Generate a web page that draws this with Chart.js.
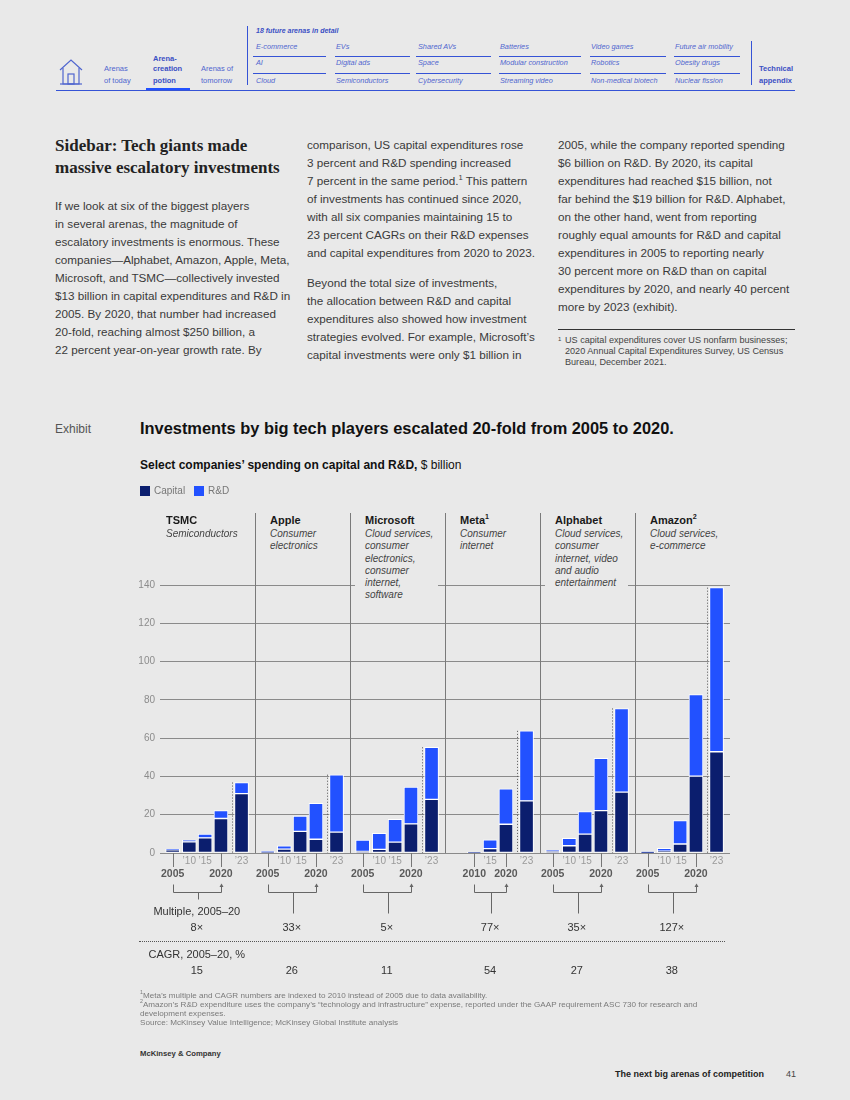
<!DOCTYPE html>
<html><head><meta charset="utf-8">
<script src="https://cdn.jsdelivr.net/npm/chart.js@4.4.1/dist/chart.umd.min.js"></script>
<style>
html,body{margin:0;padding:0;}
body{width:850px;height:1100px;background:#e9e9e9;position:relative;overflow:hidden;font-family:"Liberation Sans",Arial,sans-serif;}
.t{position:absolute;white-space:nowrap;}
.hb{position:absolute;background:#e9e9e9;padding:0 5px 1px 10px;}
sup{font-size:65%;line-height:0;vertical-align:super;}
</style></head><body>
<canvas id="c" width="660" height="490" style="position:absolute;left:100px;top:500px;width:660px;height:490px"></canvas>
<script>
// ---------------- DATA ----------------
const companies = ['TSMC', 'Apple', 'Microsoft', 'Meta', 'Alphabet', 'Amazon'];
const companyNotes = ['', '', '', '1', '', '2'];
const sectors = [
  ['Semiconductors'],
  ['Consumer', 'electronics'],
  ['Cloud services,', 'consumer', 'electronics,', 'consumer', 'internet,', 'software'],
  ['Consumer', 'internet'],
  ['Cloud services,', 'consumer', 'internet, video', 'and audio', 'entertainment'],
  ['Cloud services,', 'e-commerce']
];
const years = [2005, 2010, 2015, 2020, 2023];
const yTicks = [0, 20, 40, 60, 80, 100, 120, 140];

const capitalTSMC      = [1.6, 5.9, 7.9, 18.0, 31.0];
const rndTSMC          = [0.3, 0.9, 2.0, 4.2, 5.8];
const capitalApple     = [0.3, 2.0, 11.3, 7.2, 10.9];
const rndApple         = [0.5, 1.8, 8.0, 18.8, 30.0];
const capitalMicrosoft = [0.8, 1.9, 5.7, 15.2, 28.0];
const rndMicrosoft     = [6.0, 8.4, 11.9, 19.3, 27.2];
const capitalMeta      = [null, 0.3, 2.3, 15.0, 27.2];
const rndMeta          = [null, 0.14, 4.6, 18.5, 36.6];
const capitalAlphabet  = [0.8, 3.8, 9.9, 22.1, 31.8];
const rndAlphabet      = [0.6, 3.9, 11.8, 27.3, 43.7];
const capitalAmazon    = [0.2, 1.0, 4.7, 40.2, 52.9];
const rndAmazon        = [0.45, 1.4, 12.3, 42.6, 85.7];

const multiples = ['8×', '33×', '5×', '77×', '35×', '127×'];
const cagrs = ['15', '26', '11', '54', '27', '38'];

// ---------------- LAYOUT ----------------
const capitalSets = [capitalTSMC, capitalApple, capitalMicrosoft, capitalMeta, capitalAlphabet, capitalAmazon];
const rndSets = [rndTSMC, rndApple, rndMicrosoft, rndMeta, rndAlphabet, rndAmazon];
const panelUnits = 6;
const slotPos = [0.8, 1.85, 2.85, 3.85, 5.15];
const dottedPos = 4.55;
const CAP = '#0b1e6e', RND = '#2251ff', BG = '#e9e9e9';
const navBlue = '#5066cf', lineBlue = '#3553d6';

function T(x, y, html, css, lh) {
  lh = lh || 14;
  const d = document.createElement('div');
  d.className = 't';
  d.style.cssText = (css || '');
  d.style.left = x + 'px';
  d.style.top = (y - lh / 2) + 'px';
  d.style.lineHeight = lh + 'px';
  d.innerHTML = html;
  document.body.appendChild(d);
  return d;
}
function L(x1, y1, x2, y2, color, w, style) {
  const d = document.createElement('div');
  d.style.position = 'absolute';
  if (y1 === y2) {
    d.style.left = x1 + 'px'; d.style.top = y1 + 'px'; d.style.width = (x2 - x1) + 'px';
    d.style.borderTop = w + 'px ' + (style || 'solid') + ' ' + color;
  } else {
    d.style.left = x1 + 'px'; d.style.top = y1 + 'px'; d.style.height = (y2 - y1) + 'px';
    d.style.borderLeft = w + 'px ' + (style || 'solid') + ' ' + color;
  }
  document.body.appendChild(d);
}

// ---- top navigation ----
document.body.insertAdjacentHTML('beforeend',
 '<svg style="position:absolute;left:58px;top:58px" width="26" height="28" viewBox="0 0 26 28">' +
 '<path d="M2 12 L13 2 L24 12" fill="none" stroke="' + navBlue + '" stroke-width="1.2"/>' +
 '<path d="M5 10 V26 H21 V10" fill="none" stroke="' + navBlue + '" stroke-width="1.2"/>' +
 '<rect x="10" y="16" width="6" height="10" fill="none" stroke="' + navBlue + '" stroke-width="1.2"/>' +
 '<line x1="2" y1="26" x2="24" y2="26" stroke="' + navBlue + '" stroke-width="1.2"/></svg>');
const navS = 'font-size:7.5px;color:' + navBlue + ';';
const navB = 'font-size:7.5px;color:#3a4fc4;font-weight:bold;';
T(104, 69, 'Arenas', navS, 10); T(104, 80.5, 'of today', navS, 10);
T(153, 58.5, 'Arena-', navB, 10); T(153, 69, 'creation', navB, 10); T(153, 80.5, 'potion', navB, 10);
T(201, 69, 'Arenas of', navS, 10); T(201, 80.5, 'tomorrow', navS, 10);
L(146, 88, 190, 88, '#2251ff', 3);
L(247, 26, 247, 85, lineBlue, 1);
T(256, 31, '18 future arenas in detail', 'font-size:7px;font-style:italic;font-weight:bold;color:#3a4fc4;', 10);
const navCols = [256, 336, 418, 500, 591, 675];
const navLines = [[253, 326], [335, 410], [416, 491], [499, 581], [590, 666], [674, 740]];
const navItems = [
  ['E-commerce', 'AI', 'Cloud'],
  ['EVs', 'Digital ads', 'Semiconductors'],
  ['Shared AVs', 'Space', 'Cybersecurity'],
  ['Batteries', 'Modular construction', 'Streaming video'],
  ['Video games', 'Robotics', 'Non-medical biotech'],
  ['Future air mobility', 'Obesity drugs', 'Nuclear fission']
];
navItems.forEach((col, i) => {
  col.forEach((it, r) => T(navCols[i], [46.5, 63.3, 80.5][r], it, 'font-size:7.3px;font-style:italic;color:' + navBlue + ';', 10));
  L(navLines[i][0], 56, navLines[i][1], 56, lineBlue, 1);
  L(navLines[i][0], 73, navLines[i][1], 73, lineBlue, 1);
});
L(751, 41, 751, 85, lineBlue, 1);
T(759, 69, 'Technical', navB, 10); T(759, 80.5, 'appendix', navB, 10);
L(56, 90, 795, 90, lineBlue, 1);

// ---- sidebar text ----
const serif = 'font-family:"Liberation Serif","Times New Roman",serif;font-weight:bold;font-size:17px;color:#222;';
T(55, 146, 'Sidebar: Tech giants made', serif, 20);
T(55, 168, 'massive escalatory investments', serif, 20);
const bodyS = 'font-size:11.7px;color:#3a3a3a;';
const col1 = ['If we look at six of the biggest players', 'in several arenas, the magnitude of',
  'escalatory investments is enormous. These', 'companies—Alphabet, Amazon, Apple, Meta,',
  'Microsoft, and TSMC—collectively invested', '$13 billion in capital expenditures and R&amp;D in',
  '2005. By 2020, that number had increased', '20-fold, reaching almost $250 billion, a',
  '22 percent year-on-year growth rate. By'];
col1.forEach((s, i) => T(55, 206 + 18 * i, s, bodyS, 16));
const col2a = ['comparison, US capital expenditures rose', '3 percent and R&amp;D spending increased',
  '7 percent in the same period.<sup>1</sup> This pattern', 'of investments has continued since 2020,',
  'with all six companies maintaining 15 to', '23 percent CAGRs on their R&amp;D expenses',
  'and capital expenditures from 2020 to 2023.'];
col2a.forEach((s, i) => T(307, 145 + 18 * i, s, bodyS, 16));
const col2b = ['Beyond the total size of investments,', 'the allocation between R&amp;D and capital',
  'expenditures also showed how investment', 'strategies evolved. For example, Microsoft’s',
  'capital investments were only $1 billion in'];
col2b.forEach((s, i) => T(307, 283 + 18 * i, s, bodyS, 16));
const col3 = ['2005, while the company reported spending', '$6 billion on R&amp;D. By 2020, its capital',
  'expenditures had reached $15 billion, not', 'far behind the $19 billion for R&amp;D. Alphabet,',
  'on the other hand, went from reporting', 'roughly equal amounts for R&amp;D and capital',
  'expenditures in 2005 to reporting nearly', '30 percent more on R&amp;D than on capital',
  'expenditures by 2020, and nearly 40 percent', 'more by 2023 (exhibit).'];
col3.forEach((s, i) => T(558, 145 + 18 * i, s, bodyS, 16));
L(558, 329, 795, 329, '#333', 1);
const fnS = 'font-size:9.1px;color:#444;';
T(558, 338, '<span style="font-size:6px">1</span>', fnS, 10);
T(565, 340, 'US capital expenditures cover US nonfarm businesses;', fnS, 11);
T(565, 351, '2020 Annual Capital Expenditures Survey, US Census', fnS, 11);
T(565, 362, 'Bureau, December 2021.', fnS, 11);

// ---- exhibit header ----
T(55, 429, 'Exhibit', 'font-size:12px;color:#555;', 16);
T(140, 428, 'Investments by big tech players escalated 20-fold from 2005 to 2020.', 'font-size:16.4px;font-weight:bold;color:#111;', 20);
T(140, 465, '<b>Select companies’ spending on capital and R&amp;D,</b> $ billion', 'font-size:12px;color:#111;', 16);
document.body.insertAdjacentHTML('beforeend',
  '<div style="position:absolute;left:140px;top:486px;width:10px;height:10px;background:' + CAP + '"></div>' +
  '<div style="position:absolute;left:194px;top:486px;width:10px;height:10px;background:' + RND + '"></div>');
T(154, 491, 'Capital', 'font-size:10px;color:#777;', 12);
T(208, 491, 'R&amp;D', 'font-size:10px;color:#777;', 12);

// ---------------- CHART ----------------
function toPoints(sets) {
  const pts = [];
  sets.forEach((arr, ci) => arr.forEach((v, yi) => {
    if (v !== null) pts.push({ x: ci * panelUnits + slotPos[yi], y: v });
  }));
  return pts;
}
function baseIdx(ci) { return capitalSets[ci].findIndex(v => v !== null); }

const annot = {
  id: 'annot',
  afterDatasetsDraw(chart) {
    const { ctx, chartArea: a, scales: { x: xs, y: ys } } = chart;
    ctx.save();
    ctx.strokeStyle = '#7a7a7a'; ctx.lineWidth = 1;
    for (let k = 1; k < companies.length; k++) {
      const px = Math.round(xs.getPixelForValue(k * panelUnits)) + 0.5;
      ctx.beginPath(); ctx.moveTo(px, 13); ctx.lineTo(px, a.bottom); ctx.stroke();
    }
    companies.forEach((c, ci) => {
      const off = ci * panelUnits;
      const last = years.length - 1;
      const top = ys.getPixelForValue(capitalSets[ci][last] + rndSets[ci][last]);
      const dx = Math.round(xs.getPixelForValue(off + dottedPos)) + 0.5;
      ctx.setLineDash([1, 2]); ctx.strokeStyle = '#555';
      ctx.beginPath(); ctx.moveTo(dx, top); ctx.lineTo(dx, a.bottom); ctx.stroke();
      ctx.setLineDash([]);
      const b = baseIdx(ci);
      const xb = Math.round(xs.getPixelForValue(off + slotPos[b])) + 0.5;
      const x20 = Math.round(xs.getPixelForValue(off + slotPos[3])) + 0.5;
      ctx.strokeStyle = '#777';
      [xb, x20].forEach(px => { ctx.beginPath(); ctx.moveTo(px, a.bottom); ctx.lineTo(px, a.bottom + 14); ctx.stroke(); });
      ctx.textAlign = 'center'; ctx.textBaseline = 'middle';
      years.forEach((yr, yi) => {
        if (yi < b) return;
        const px = xs.getPixelForValue(off + slotPos[yi]);
        if (yi === b || yi === 3) {
          ctx.font = 'bold 10.5px "Liberation Sans", Arial, sans-serif'; ctx.fillStyle = '#5a5a5a';
          ctx.fillText(String(yr), px, a.bottom + 21);
        } else {
          ctx.font = '10px "Liberation Sans", Arial, sans-serif'; ctx.fillStyle = '#9a9a9a';
          ctx.fillText('\u2019' + String(yr).slice(2), px, a.bottom + 8);
        }
      });
      const by = a.bottom + 39.5;
      ctx.strokeStyle = '#666';
      ctx.beginPath(); ctx.moveTo(xb, by - 8); ctx.lineTo(xb, by); ctx.lineTo(x20, by); ctx.lineTo(x20, by - 6); ctx.stroke();
      ctx.fillStyle = '#666';
      ctx.beginPath(); ctx.moveTo(x20, by - 9); ctx.lineTo(x20 - 2, by - 5.5); ctx.lineTo(x20 + 2, by - 5.5); ctx.closePath(); ctx.fill();
      const cx = Math.round((xb + x20) / 2) + 0.5;
      ctx.beginPath(); ctx.moveTo(cx, by); ctx.lineTo(cx, by + (ci === 0 ? 7 : 21)); ctx.stroke();
    });
    ctx.restore();
  }
};

const chart = new Chart(document.getElementById('c'), {
  type: 'bar',
  data: {
    datasets: [
      { label: 'Capital', data: toPoints(capitalSets), backgroundColor: CAP, borderColor: '#ffffff', borderWidth: 1, borderSkipped: false, barThickness: 14, stack: 's' },
      { label: 'R&D', data: toPoints(rndSets), backgroundColor: RND, borderColor: '#ffffff', borderWidth: 1, borderSkipped: false, barThickness: 14, stack: 's' }
    ]
  },
  options: {
    responsive: false, animation: false,
    layout: { padding: { left: 0, right: 30, top: 85, bottom: 137 } },
    plugins: { legend: { display: false }, tooltip: { enabled: false } },
    scales: {
      x: { type: 'linear', min: 0, max: companies.length * panelUnits, offset: false, stacked: true, display: false, grid: { offset: false } },
      y: {
        stacked: true, min: 0, max: 140,
        afterBuildTicks: s => { s.ticks = yTicks.map(v => ({ value: v })); },
        afterFit: s => { s.width = 60; },
        border: { display: false },
        grid: { color: '#8a8a8a', lineWidth: 1, drawTicks: false },
        ticks: { color: '#8c8c8c', font: { size: 10, family: '"Liberation Sans", Arial, sans-serif' }, padding: 5 }
      }
    }
  },
  plugins: [annot]
});

// ---- company headers (above the canvas) ----
const xsc = chart.scales.x;
const CX = 100;
companies.forEach((c, ci) => {
  const left = 160 + 95 * ci + (ci === 0 ? 6 : 15);
  const d = document.createElement('div');
  d.className = 'hb';
  d.style.left = (left - 10) + 'px';
  d.style.top = '513px';
  let h = '<div style="font-size:11px;font-weight:bold;color:#1a1a1a;line-height:14px;margin-bottom:1px">' + c +
    (companyNotes[ci] ? '<sup>' + companyNotes[ci] + '</sup>' : '') + '</div>';
  sectors[ci].forEach(s => { h += '<div style="font-size:10px;font-style:italic;color:#444;line-height:12.3px">' + s + '</div>'; });
  d.innerHTML = h;
  document.body.appendChild(d);

  const b = baseIdx(ci);
  const cx = CX + (xsc.getPixelForValue(ci * panelUnits + slotPos[b]) + xsc.getPixelForValue(ci * panelUnits + slotPos[3])) / 2;
  const cs = 'font-size:11px;color:#333;transform:translateX(-50%);';
  T(cx, 927, multiples[ci], cs, 14);
  T(cx, 970, cagrs[ci], cs, 14);
  if (ci === 0) {
    T(cx, 911, 'Multiple, 2005–20', cs, 14);
    T(cx, 954, 'CAGR, 2005–20, %', cs, 14);
  }
});
L(139, 941, 725, 941, '#555', 1, 'dotted');

// ---- footnotes ----
const fs = 'font-size:8.1px;color:#7a7a7a;';
T(140, 995, '<sup>1</sup>Meta’s multiple and CAGR numbers are indexed to 2010 instead of 2005 due to data availability.', fs, 9);
T(140, 1004, '<sup>2</sup>Amazon’s R&amp;D expenditure uses the company’s “technology and infrastructure” expense, reported under the GAAP requirement ASC 730 for research and', fs, 9);
T(140, 1013, 'development expenses.', fs, 9);
T(140, 1022, 'Source: McKinsey Value Intelligence; McKinsey Global Institute analysis', fs, 9);
T(140, 1054, 'McKinsey &amp; Company', 'font-size:7.7px;font-weight:bold;color:#333;', 10);
T(615, 1074, 'The next big arenas of competition', 'font-size:9px;font-weight:bold;color:#222;', 12);
T(786, 1074, '41', 'font-size:9px;color:#444;', 12);
</script>
</body></html>
